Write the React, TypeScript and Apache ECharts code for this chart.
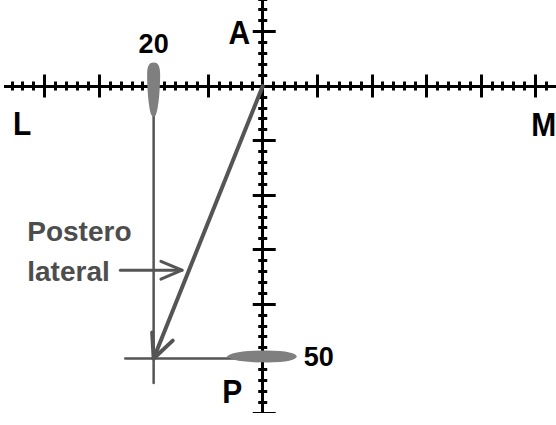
import React, { useEffect, useRef } from "react";
import * as echarts from "echarts";

// Displacement components, in grid units (10 units per major tick)
const lateralShift = -20; // along L–M
const posteriorShift = -50; // along A–P
const vectorStart: number[] = [0, 0];
const vectorEnd: number[] = [lateralShift, posteriorShift];

// Axis extents and tick step
const xRange: number[] = [-50, 60];
const yRange: number[] = [-60, 20];
const majorStep = 10;
const minorSplits = 5;

// How far each construction line runs past the resultant's tip
const guideOvershoot: number[] = [5.2, 4.5];

// Callout arrow pointing at the resultant
const calloutTail: number[] = [-26.1, -33.8];
const calloutTip: number[] = [-14.8, -33.8];

// Direction letters at the axis ends
const directionLabels: string[] = ["L", "M", "A", "P"];
const calloutLines: string[] = ["Postero", "lateral"];

const INK = "#000";
const GREY = "#555";
const MARKER = "#7f7f7f";
const FONT = '"Liberation Sans", Arial, sans-serif';

// Pixels per grid unit, same on both axes so angles stay true
const UNIT = 5.455;
// Where the plotting surface sits inside the visible frame
const ORIGIN_X = 258.5;
const ORIGIN_Y = 86.5;

// Open chevron at `tip`, arms pointing back toward `from`
function chevron(tip: number[], from: number[], len: number, deg: number): number[][] {
  const dx = from[0] - tip[0];
  const dy = from[1] - tip[1];
  const d = Math.hypot(dx, dy);
  const ux = dx / d;
  const uy = dy / d;
  const arm = (s: number) => {
    const a = (s * deg * Math.PI) / 180;
    return [
      tip[0] + len * (ux * Math.cos(a) - uy * Math.sin(a)),
      tip[1] + len * (ux * Math.sin(a) + uy * Math.cos(a)),
    ];
  };
  return [arm(1), tip, arm(-1)];
}

function axisBase(range: number[], tickLen: number) {
  return {
    type: "value" as const,
    min: range[0],
    max: range[1],
    interval: majorStep,
    axisLabel: { show: false },
    splitLine: { show: false },
    axisLine: {
      show: true,
      onZero: true,
      onZeroAxisIndex: 0,
      lineStyle: { color: INK, width: 3 },
    },
    axisTick: { show: true, length: tickLen, lineStyle: { color: INK, width: 3 } },
    minorTick: {
      show: true,
      splitNumber: minorSplits,
      length: 4.5,
      lineStyle: { color: INK, width: 3 },
    },
    minorSplitLine: { show: false },
  };
}

export default function App() {
  const ref = useRef<HTMLDivElement>(null);

  const innerLeft = ORIGIN_X + xRange[0] * UNIT;
  const innerTop = ORIGIN_Y - yRange[1] * UNIT;
  const innerW = (xRange[1] - xRange[0]) * UNIT;
  const innerH = (yRange[1] - yRange[0]) * UNIT;

  useEffect(() => {
    if (!ref.current) return;
    const chart = echarts.init(ref.current, undefined, { renderer: "svg" });

    const lineSeries = (data: number[][], width: number) => ({
      type: "line" as const,
      data,
      symbol: "none",
      silent: true,
      lineStyle: { color: GREY, width, cap: "round" as const, join: "round" as const },
      z: 3,
    });

    const font = (size: number) => `bold ${size}px ${FONT}`;
    // graphic positions are given in the visible frame; shift into the chart surface
    const at = (x: number, y: number) => ({ x: x - innerLeft, y: y - innerTop });
    const letter = (text: string, x: number, y: number, align: string) => ({
      type: "text",
      ...at(x, y),
      scaleY: 1.1,
      style: { text, font: font(30), fill: INK, textAlign: align, textVerticalAlign: "middle" },
    });

    const valueLabel = (value: number, position: string, distance: number) => ({
      show: true,
      position,
      distance,
      formatter: () => String(Math.abs(value)),
      color: INK,
      opacity: 1,
      fontSize: 27,
      fontWeight: "bold",
      fontFamily: FONT,
    });

    chart.setOption({
      animation: false,
      grid: {
        left: 0,
        right: 0,
        top: 0,
        bottom: 0,
        containLabel: false,
        outerBoundsMode: "none",
      },
      xAxis: [
        { ...axisBase(xRange, 11.5), position: "bottom" },
        { ...axisBase(xRange, 11.5), position: "top" },
      ],
      yAxis: [
        { ...axisBase(yRange, 10), position: "left" },
        { ...axisBase(yRange, 13), position: "right" },
      ],
      series: [
        // construction lines through the tip
        lineSeries(
          [
            [lateralShift, 0],
            [lateralShift, posteriorShift - guideOvershoot[1]],
          ],
          2.5
        ),
        lineSeries(
          [
            [lateralShift - guideOvershoot[0], posteriorShift],
            [0, posteriorShift],
          ],
          2.5
        ),
        // component markers
        {
          type: "scatter",
          data: [[lateralShift, 0]],
          symbol:
            "path://M6,0 C10,0 12,3 12,12 C12,30 10,48 8,52 C7,54 5,54 4,52 C2,48 0,30 0,12 C0,3 2,0 6,0 Z",
          symbolSize: [13, 54],
          symbolOffset: [0, 3.5],
          itemStyle: { color: MARKER, opacity: 1 },
          silent: true,
          z: 4,
          label: valueLabel(lateralShift, "top", 5),
        },
        {
          type: "scatter",
          data: [[0, posteriorShift]],
          symbol:
            "path://M0,6 C4,2 20,0 40,0 C60,0 70,3 70,6 C70,9 60,12 40,12 C20,12 4,10 0,6 Z",
          symbolSize: [70, 12],
          symbolOffset: [-1, -2],
          itemStyle: { color: MARKER, opacity: 1 },
          silent: true,
          z: 4,
          label: valueLabel(posteriorShift, "right", 7),
        },
        // resultant vector with its arrowhead
        { ...lineSeries([vectorStart, vectorEnd], 4), z: 5 },
        { ...lineSeries(chevron(vectorEnd, vectorStart, 4.8, 25), 4), z: 5 },
        // callout arrow
        lineSeries([calloutTail, calloutTip], 3),
        lineSeries(chevron(calloutTip, calloutTail, 4.2, 23), 3),
      ],
      graphic: [
        letter(directionLabels[0], 18, 124, "center"),
        letter(directionLabels[1], 552, 125, "right"),
        letter(directionLabels[2], 235, 33, "center"),
        letter(directionLabels[3], 228, 392, "center"),
        {
          type: "text",
          ...at(23, 232),
          style: { text: calloutLines[0], font: font(28), fill: "#4d4d4d", textAlign: "left", textVerticalAlign: "middle" },
        },
        {
          type: "text",
          ...at(23, 272),
          style: { text: calloutLines[1], font: font(28), fill: "#4d4d4d", textAlign: "left", textVerticalAlign: "middle" },
        },
      ],
    });

    return () => chart.dispose();
  }, []);

  return (
    <div
      style={{
        position: "fixed",
        left: 4,
        top: 0,
        width: 552,
        height: 425,
        overflow: "hidden",
        background: "#fff",
      }}
    >
      <div
        ref={ref}
        style={{ position: "absolute", left: innerLeft, top: innerTop, width: innerW, height: innerH }}
      />
    </div>
  );
}
